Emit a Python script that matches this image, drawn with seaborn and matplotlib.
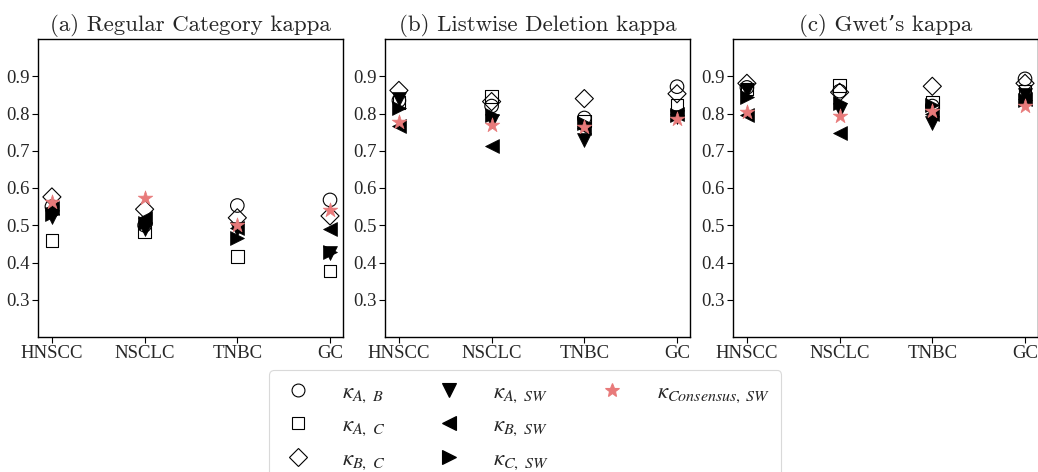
import numpy as np
import pandas as pd
import matplotlib
matplotlib.use("Agg")
import matplotlib.pyplot as plt
from matplotlib.lines import Line2D
import seaborn as sns

sns.set_style("ticks")
plt.rcParams["font.family"] = ["Liberation Serif", "DejaVu Serif"]
plt.rcParams["mathtext.fontset"] = "stix"

categories = ["HNSCC", "NSCLC", "TNBC", "GC"]
titles = ["(a) Regular Category kappa", "(b) Listwise Deletion kappa", "(c) Gwet\u2019s kappa"]
series_names = ["AB", "AC", "BC", "ASW", "BSW", "CSW", "Cons"]
legend_labels = [r"$\kappa_{A,\ B}$", r"$\kappa_{A,\ C}$", r"$\kappa_{B,\ C}$",
                 r"$\kappa_{A,\ SW}$", r"$\kappa_{B,\ SW}$", r"$\kappa_{C,\ SW}$",
                 r"$\kappa_{Consensus,\ SW}$"]

# (a) Regular Category kappa
regular_AB = [0.550, 0.500, 0.553, 0.568]
regular_AC = [0.460, 0.482, 0.417, 0.377]
regular_BC = [0.576, 0.543, 0.520, 0.525]
regular_ASW = [0.522, 0.490, 0.490, 0.425]
regular_BSW = [0.545, 0.520, 0.492, 0.490]
regular_CSW = [0.530, 0.505, 0.465, 0.428]
regular_Cons = [0.562, 0.574, 0.500, 0.542]

# (b) Listwise Deletion kappa
listwise_AB = [0.835, 0.820, 0.788, 0.872]
listwise_AC = [0.830, 0.845, 0.780, 0.821]
listwise_BC = [0.862, 0.832, 0.840, 0.853]
listwise_ASW = [0.840, 0.780, 0.730, 0.790]
listwise_BSW = [0.767, 0.714, 0.760, 0.800]
listwise_CSW = [0.815, 0.797, 0.775, 0.795]
listwise_Cons = [0.778, 0.768, 0.765, 0.784]

# (c) Gwet's kappa
gwet_AB = [0.870, 0.860, 0.820, 0.893]
gwet_AC = [0.866, 0.875, 0.830, 0.860]
gwet_BC = [0.881, 0.857, 0.873, 0.881]
gwet_ASW = [0.862, 0.810, 0.774, 0.850]
gwet_BSW = [0.797, 0.747, 0.800, 0.840]
gwet_CSW = [0.844, 0.827, 0.823, 0.835]
gwet_Cons = [0.805, 0.792, 0.808, 0.820]

panels = [
    [regular_AB, regular_AC, regular_BC, regular_ASW, regular_BSW, regular_CSW, regular_Cons],
    [listwise_AB, listwise_AC, listwise_BC, listwise_ASW, listwise_BSW, listwise_CSW, listwise_Cons],
    [gwet_AB, gwet_AC, gwet_BC, gwet_ASW, gwet_BSW, gwet_CSW, gwet_Cons],
]

markers = ["o", "s", "D", "v", "<", ">", "*"]
sizes = [95, 85, 85, 100, 100, 100, 120]
face = ["none", "none", "none", "black", "black", "black", "#e87a7a"]
edge = ["black", "black", "black", "black", "black", "black", "#e87a7a"]

fig = plt.figure(figsize=(10.38, 4.72), dpi=100)
lefts = [38, 385, 733]
axes = []
for i, left in enumerate(lefts):
    ax = fig.add_axes([left / 1038, 1 - 337 / 472, 305 / 1038, 298 / 472])
    axes.append(ax)
    for j, vals in enumerate(panels[i]):
        df = pd.DataFrame({"cat": categories, "val": vals})
        sns.scatterplot(data=df, x="cat", y="val", marker=markers[j], s=sizes[j],
                        color=edge[j], facecolor=face[j], edgecolor=edge[j],
                        linewidth=0.8 if j < 3 else 0.5, ax=ax, zorder=3 + j)
    ax.set_xlim(-0.15, 3.14)
    ax.set_ylim(0.2, 1.0)
    ax.set_yticks([0.3, 0.4, 0.5, 0.6, 0.7, 0.8, 0.9])
    ax.set_yticklabels(["0.3", "0.4", "0.5", "0.6", "0.7", "0.8", "0.9"])
    ax.set_xlabel("")
    ax.set_ylabel("")
    ax.tick_params(labelsize=13.5, length=4, width=0.8, color="black", pad=2)
    for sp in ax.spines.values():
        sp.set_color("black")
        sp.set_linewidth(1.0)
        sp.set_visible(True)
    ax.set_title(titles[i], fontsize=16.5, family=["cmr10", "DejaVu Serif"], pad=6)

handles = []
for j in range(7):
    handles.append(Line2D([], [], linestyle="none", marker=markers[j],
                          markersize=np.sqrt(sizes[j]) * 0.95,
                          markerfacecolor=face[j], markeredgecolor=edge[j],
                          markeredgewidth=0.8))
blank = Line2D([], [], linestyle="none", marker=None)
handles_all = handles + [blank, blank]
labels_all = legend_labels + ["", ""]
leg = fig.legend(handles_all, labels_all, ncol=3, loc="upper center",
                 bbox_to_anchor=(0.506, 0.24), fontsize=16.5, frameon=True,
                 handlelength=1.5, handletextpad=1.2, columnspacing=2.0,
                 labelspacing=0.45, borderpad=0.5, fancybox=True)
leg.get_frame().set_edgecolor("#d0d0d0")
leg.get_frame().set_linewidth(0.8)

fig.savefig("out.png", dpi=100)
